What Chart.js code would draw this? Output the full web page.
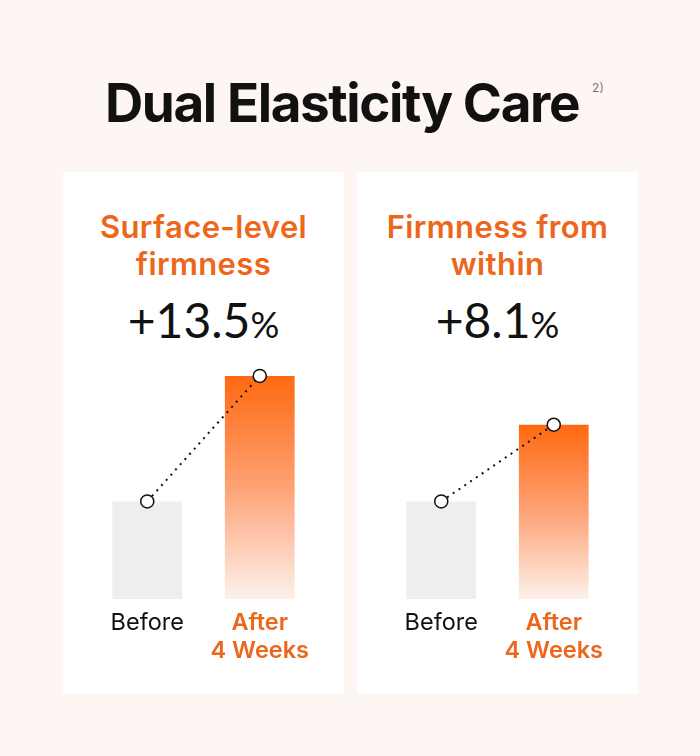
<!DOCTYPE html>
<html>
<head>
<meta charset="utf-8">
<script src="https://cdn.jsdelivr.net/npm/chart.js@4.4.1/dist/chart.umd.min.js"></script>
<style>
  html, body { margin: 0; padding: 0; }
  body { width: 700px; height: 756px; background: #fdf6f2; position: relative; overflow: hidden; font-family: Inter, "Noto Sans", sans-serif; }
  .title { position: absolute; left: -8px; top: 68px; width: 700px; text-align: center; font-size: 53px; font-weight: 700; letter-spacing: -1.4px; color: #111; line-height: 70px; }
  .title sup { position: absolute; margin-left: 13px; margin-top: 14px; font-size: 12px; line-height: 12px; font-weight: 400; letter-spacing: 0; color: #777; }
  .panel { position: absolute; top: 172px; width: 281px; height: 522px; background: #fff; }
  .head { position: absolute; left: 0; top: 36px; width: 281px; text-align: center; font-size: 31px; font-weight: 600; color: #ec671c; line-height: 37px; letter-spacing: 0.4px; }
  .pct { position: absolute; left: 0; top: 118px; width: 281px; text-align: center; font-family: Lato, sans-serif; font-size: 48px; font-weight: 400; color: #111; line-height: 60px; }
  .pct span { font-size: 36px; }
  .panel canvas { position: absolute; left: 0; top: 180px; }
</style>
</head>
<body>
<div class="title">Dual Elasticity Care<sup>2)</sup></div>

<div class="panel" style="left:63px">
  <div class="head">Surface-level<br>firmness</div>
  <div class="pct">+13.5<span>%</span></div>
  <canvas id="chartSurface" width="281" height="330"></canvas>
</div>

<div class="panel" style="left:357px">
  <div class="head">Firmness from<br>within</div>
  <div class="pct">+8.1<span>%</span></div>
  <canvas id="chartWithin" width="281" height="330"></canvas>
</div>

<script>
// categories
const labels = ['Before', ['After', '4 Weeks']];
// bar heights (arbitrary scale)
const surfaceValues = [98, 224];
const withinValues = [98, 175];

const orange = '#ec671c';

function barColor(ctx) {
  if (ctx.dataIndex === 0) return '#eeeeee';
  const chart = ctx.chart;
  const area = chart.chartArea;
  if (!area) return orange;
  const y = chart.scales.y;
  const top = y.getPixelForValue(ctx.raw);
  const g = chart.ctx.createLinearGradient(0, top, 0, area.bottom);
  g.addColorStop(0, '#ff6910');
  g.addColorStop(0.5, '#fda276');
  g.addColorStop(1, '#fdf1ea');
  return g;
}

function makeChart(id, values) {
  const ctx = document.getElementById(id).getContext('2d');
  return new Chart(ctx, {
    type: 'bar',
    data: {
      labels: labels,
      datasets: [
        {
          type: 'line',
          data: values,
          order: 0,
          borderColor: '#111',
          borderWidth: 2,
          borderDash: [2, 5],
          pointRadius: 6.5,
          pointBackgroundColor: '#fff',
          pointBorderColor: '#111',
          pointBorderWidth: 1.5,
          fill: false,
        },
        {
          data: values,
          order: 1,
          backgroundColor: barColor,
          categoryPercentage: 1,
          barPercentage: 0.62,
        },
      ],
    },
    options: {
      responsive: false,
      animation: false,
      layout: { padding: { left: 28, right: 28, top: 7, bottom: 0 } },
      plugins: { legend: { display: false }, tooltip: { enabled: false } },
      scales: {
        y: { display: false, min: 0, max: 240 },
        x: {
          grid: { display: false },
          border: { display: false },
          afterFit: function (scale) { scale.height = 83; },
          ticks: {
            padding: 2,
            color: function (c) { return c.index === 0 ? '#111' : orange; },
            font: function (c) {
              return { family: 'Inter', size: 23.5, weight: c.index === 0 ? '400' : '600', lineHeight: 1.2 };
            },
          },
        },
      },
    },
  });
}

makeChart('chartSurface', surfaceValues);
makeChart('chartWithin', withinValues);
</script>
</body>
</html>
